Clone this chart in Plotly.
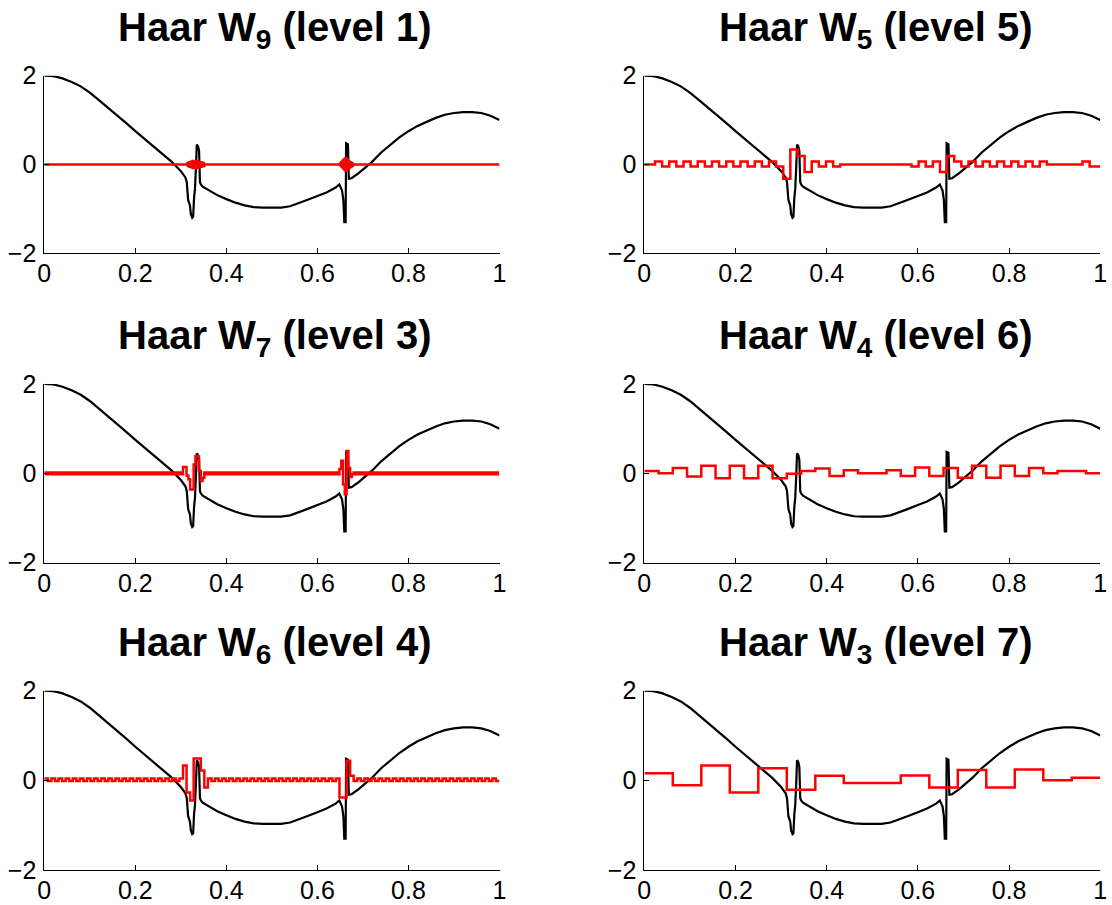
import numpy as np
import plotly.graph_objects as go

# ---------------- data ----------------
# black signal (same in every panel)
signal_x = [0.00, 0.02, 0.04, 0.06, 0.08, 0.10, 0.12, 0.14, 0.16, 0.18, 0.20, 0.22, 0.24, 0.26, 0.28, 0.30,
            0.305, 0.310, 0.313, 0.316, 0.320, 0.322, 0.325, 0.327, 0.329, 0.331, 0.333, 0.335, 0.338, 0.340,
            0.342, 0.344, 0.348, 0.36, 0.38, 0.40, 0.42, 0.44, 0.46, 0.48, 0.50, 0.52, 0.54, 0.56, 0.58, 0.60,
            0.62, 0.64, 0.648, 0.654, 0.657, 0.659, 0.662, 0.663, 0.667, 0.669, 0.675, 0.69, 0.70, 0.72, 0.74,
            0.76, 0.78, 0.80, 0.82, 0.84, 0.86, 0.88, 0.90, 0.92, 0.94, 0.96, 0.98, 1.00]
signal_y = [2.00, 1.99, 1.94, 1.86, 1.76, 1.62, 1.45, 1.28, 1.12, 0.93, 0.75, 0.58, 0.41, 0.24, 0.06, -0.15,
            -0.22, -0.29, -0.40, -0.80, -0.92, -1.12, -1.20, -1.18, -0.75, -0.55, -0.10, 0.45, 0.40, 0.30,
            -0.40, -0.45, -0.50, -0.57, -0.69, -0.78, -0.86, -0.92, -0.96, -0.97, -0.97, -0.97, -0.94, -0.87,
            -0.79, -0.71, -0.63, -0.52, -0.45, -0.58, -0.80, -1.30, -1.30, 0.48, 0.46, -0.32, -0.31, -0.20,
            -0.11, 0.06, 0.27, 0.45, 0.61, 0.75, 0.87, 0.96, 1.05, 1.12, 1.16, 1.18, 1.18, 1.16, 1.10, 1.00]

# W9 (level 1): 1024 coefficients, zero except two bursts
w9_count = 1024
w9_burst1_start = 322
w9_burst1 = [0.03, -0.03, 0.04, -0.04, 0.05, -0.05, 0.05, -0.05, 0.06, -0.06, 0.07, -0.07, 0.08, -0.08,
             0.07, -0.07, 0.06, -0.06, 0.07, -0.07, 0.08, -0.08, 0.07, -0.07, 0.06, -0.06, 0.05, -0.05,
             0.05, -0.05, 0.05, -0.05, 0.04, -0.04, 0.04, -0.04, 0.03, -0.03]
w9_burst2_start = 666
w9_burst2 = [0.03, -0.03, 0.05, -0.05, 0.07, -0.07, 0.09, -0.09, 0.11, -0.11, 0.13, -0.13, 0.14, -0.14,
             0.12, -0.12, 0.10, -0.10, 0.08, -0.08, 0.06, -0.06, 0.05, -0.05, 0.04, -0.04, 0.03, -0.03]

# W7 (level 3): 256 values
w7 = [
    0.02, -0.02, 0.02, -0.02, 0.02, -0.02, 0.02, -0.02, 0.02, -0.02, 0.02, -0.02, 0.02, -0.02, 0.02, -0.02,
    0.02, -0.02, 0.02, -0.02, 0.02, -0.02, 0.02, -0.02, 0.02, -0.02, 0.02, -0.02, 0.02, -0.02, 0.02, -0.02,
    0.02, -0.02, 0.02, -0.02, 0.02, -0.02, 0.02, -0.02, 0.02, -0.02, 0.02, -0.02, 0.02, -0.02, 0.02, -0.02,
    0.02, -0.02, 0.02, -0.02, 0.02, -0.02, 0.02, -0.02, 0.02, -0.02, 0.02, -0.02, 0.02, -0.02, 0.02, -0.02,
    0.02, -0.02, 0.02, -0.02, 0.02, -0.02, 0.02, -0.02, 0.02, -0.02, 0.02, -0.02, 0.02, -0.02, 0.14, 0.14,
    -0.05, -0.13, -0.36, -0.36, 0.20, 0.38, 0.38, 0.05, -0.17, -0.10, 0.02, -0.02, 0.02, -0.02, 0.02, -0.02,
    0.02, -0.02, 0.02, -0.02, 0.02, -0.02, 0.02, -0.02, 0.02, -0.02, 0.02, -0.02, 0.02, -0.02, 0.02, -0.02,
    0.02, -0.02, 0.02, -0.02, 0.02, -0.02, 0.02, -0.02, 0.02, -0.02, 0.02, -0.02, 0.02, -0.02, 0.02, -0.02,
    0.02, -0.02, 0.02, -0.02, 0.02, -0.02, 0.02, -0.02, 0.02, -0.02, 0.02, -0.02, 0.02, -0.02, 0.02, -0.02,
    0.02, -0.02, 0.02, -0.02, 0.02, -0.02, 0.02, -0.02, 0.02, -0.02, 0.02, -0.02, 0.02, -0.02, 0.02, -0.02,
    0.02, -0.02, 0.02, -0.02, 0.02, -0.02, 0.10, 0.28, -0.25, -0.47, 0.50, 0.12, -0.08, -0.02, 0.02, -0.02,
    0.02, -0.02, 0.02, -0.02, 0.02, -0.02, 0.02, -0.02, 0.02, -0.02, 0.02, -0.02, 0.02, -0.02, 0.02, -0.02,
    0.02, -0.02, 0.02, -0.02, 0.02, -0.02, 0.02, -0.02, 0.02, -0.02, 0.02, -0.02, 0.02, -0.02, 0.02, -0.02,
    0.02, -0.02, 0.02, -0.02, 0.02, -0.02, 0.02, -0.02, 0.02, -0.02, 0.02, -0.02, 0.02, -0.02, 0.02, -0.02,
    0.02, -0.02, 0.02, -0.02, 0.02, -0.02, 0.02, -0.02, 0.02, -0.02, 0.02, -0.02, 0.02, -0.02, 0.02, -0.02,
    0.02, -0.02, 0.02, -0.02, 0.02, -0.02, 0.02, -0.02, 0.02, -0.02, 0.02, -0.02, 0.02, -0.02, 0.02, -0.02,
]

# W6 (level 4): 128 values
w6 = [
    0.04, -0.015, 0.04, -0.015, 0.04, -0.015, 0.04, -0.015, 0.04, -0.015, 0.04, -0.015, 0.04, -0.015, 0.04, -0.015,
    0.04, -0.015, 0.04, -0.015, 0.04, -0.015, 0.04, -0.015, 0.04, -0.015, 0.04, -0.015, 0.04, -0.015, 0.04, -0.015,
    0.04, -0.015, 0.04, -0.015, 0.04, -0.015, 0.04, 0.33, -0.27, -0.45, 0.49, 0.49, 0.22, -0.16, 0.04, -0.015,
    0.04, -0.015, 0.04, -0.015, 0.04, -0.015, 0.04, -0.015, 0.04, -0.015, 0.04, -0.015, 0.04, -0.015, 0.04, -0.015,
    0.04, -0.015, 0.04, -0.015, 0.04, -0.015, 0.04, -0.015, 0.04, -0.015, 0.04, -0.015, 0.04, -0.015, 0.04, -0.015,
    0.04, -0.015, 0.04, -0.38, -0.38, 0.44, 0.10, -0.015, 0.04, -0.015, 0.04, -0.015, 0.04, -0.015, 0.04, -0.015,
    0.04, -0.015, 0.04, -0.015, 0.04, -0.015, 0.04, -0.015, 0.04, -0.015, 0.04, -0.015, 0.04, -0.015, 0.04, -0.015,
    0.04, -0.015, 0.04, -0.015, 0.04, -0.015, 0.04, -0.015, 0.04, -0.015, 0.04, -0.015, 0.04, -0.015, 0.04, -0.015,
]

# W5 (level 5): 65 values, each centred on k/64
w5 = [0.0, 0.0, 0.07, -0.045, 0.07, -0.045, 0.07, -0.045, 0.07, -0.045, 0.07, -0.045, 0.07, -0.045, 0.07, -0.045,
      0.07, -0.045, 0.07, -0.045, -0.32, 0.34, 0.19, -0.17, 0.07, -0.045, 0.07, -0.045, 0.0, 0.0, 0.0, 0.0,
      0.0, 0.0, 0.0, 0.0, 0.0, 0.0, -0.045, 0.07, -0.045, 0.07, -0.17, 0.19, 0.07, -0.045, 0.07, -0.045,
      0.07, -0.045, 0.07, -0.045, 0.07, -0.045, 0.07, -0.045, 0.07, 0.0, 0.0, 0.0, 0.0, 0.0, 0.07, -0.045,
      -0.045]
w5_start = -1.0 / 128

# W4 (level 6): 32 values
w4 = [0.05, 0.0, 0.12, -0.07, 0.17, -0.11, 0.17, -0.11, 0.17, -0.11, -0.01, 0.05, 0.11, -0.06, 0.07, 0.0,
      0.0, 0.07, -0.06, 0.13, -0.06, 0.12, -0.10, 0.17, -0.10, 0.17, -0.06, 0.12, 0.0, 0.05, 0.05, 0.0]

# W3 (level 7): 16 values
w3 = [0.16, -0.11, 0.33, -0.27, 0.27, -0.21, 0.10, -0.06, -0.06, 0.11, -0.16, 0.23, -0.16, 0.24, 0.0, 0.06]

x_tick_vals = [0, 0.2, 0.4, 0.6, 0.8, 1]
x_tick_text = ["0", "0.2", "0.4", "0.6", "0.8", "1"]
y_tick_vals = [-2, 0, 2]
y_tick_text = ["\u22122", "0", "2"]

# ---------------- build ----------------
w9 = [0.0] * w9_count
w9[w9_burst1_start:w9_burst1_start + len(w9_burst1)] = w9_burst1
w9[w9_burst2_start:w9_burst2_start + len(w9_burst2)] = w9_burst2


def stairs(vals, start=0.0, width=None):
    n = len(vals)
    w = width if width is not None else 1.0 / n
    edges = np.clip(start + w * np.arange(n + 1), 0.0, 1.0)
    xs = np.repeat(edges, 2)[1:-1]
    ys = np.repeat(np.asarray(vals, dtype=float), 2)
    return xs, ys


panels = [
    ("9", "1", stairs(w9), 0, 0),
    ("7", "3", stairs(w7), 0, 1),
    ("6", "4", stairs(w6), 0, 2),
    ("5", "5", stairs(w5, w5_start, 1.0 / 64), 1, 0),
    ("4", "6", stairs(w4), 1, 1),
    ("3", "7", stairs(w3), 1, 2),
]

W, H = 1112, 905
col_px = [(44.3, 499.5), (644.3, 1100.3)]
row_px = [(75.7, 253.3), (384.0, 562.7), (690.7, 870.0)]
FONT = "Liberation Sans, Arial, Helvetica, sans-serif"

fig = go.Figure()
annotations = []
layout = {}
for i, (sub, lev, (rx, ry), c, r) in enumerate(panels):
    n = i + 1
    xa = "x" if n == 1 else f"x{n}"
    ya = "y" if n == 1 else f"y{n}"
    xd = [col_px[c][0] / W, col_px[c][1] / W]
    yd = [1 - row_px[r][1] / H, 1 - row_px[r][0] / H]
    fig.add_trace(go.Scatter(x=signal_x, y=signal_y, mode="lines", xaxis=xa, yaxis=ya,
                             line=dict(color="black", width=2.2), showlegend=False, hoverinfo="skip"))
    fig.add_trace(go.Scatter(x=rx, y=ry, mode="lines", xaxis=xa, yaxis=ya,
                             line=dict(color="#ff0000", width=2.5), showlegend=False, hoverinfo="skip"))
    common = dict(showline=True, linecolor="black", linewidth=1, ticks="inside", ticklen=5,
                  tickwidth=1, tickcolor="black", showgrid=False, zeroline=False, automargin=False,
                  tickfont=dict(family=FONT, size=25, color="black"))
    layout["xaxis" if n == 1 else f"xaxis{n}"] = dict(
        domain=xd, range=[0, 1], anchor=ya, tickmode="array", tickvals=x_tick_vals,
        ticktext=x_tick_text, ticklabelstandoff=-2, **common)
    layout["yaxis" if n == 1 else f"yaxis{n}"] = dict(
        domain=yd, range=[-2, 2], anchor=xa, tickmode="array", tickvals=y_tick_vals,
        ticktext=y_tick_text, ticklabelstandoff=2, **common)
    annotations.append(dict(
        text=f"<b>Haar W<sub>{sub}</sub> (level {lev})</b>", xref="paper", yref="paper",
        x=(xd[0] + xd[1]) / 2, y=yd[1], xanchor="center", yanchor="bottom", yshift=19, xshift=3,
        showarrow=False, font=dict(family=FONT, size=40, color="black")))

fig.update_layout(width=W, height=H, margin=dict(l=0, r=0, t=0, b=0, pad=0, autoexpand=False),
                  autosize=False, showlegend=False,
                  paper_bgcolor="white", plot_bgcolor="white", annotations=annotations, **layout)
fig.write_html("out.html")
